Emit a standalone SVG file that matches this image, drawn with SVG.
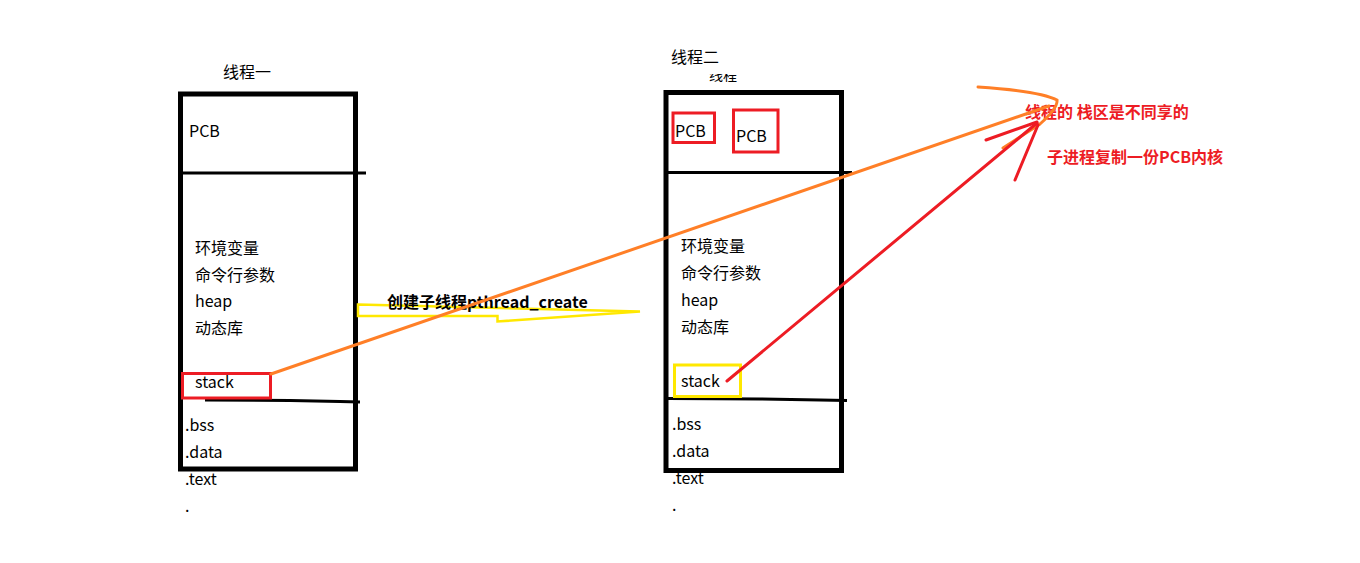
<svg xmlns="http://www.w3.org/2000/svg" width="1360" height="563" viewBox="0 0 1360 563">
<defs>
<style>
.t{font-family:"Noto Sans CJK SC","Microsoft YaHei","DejaVu Sans",sans-serif;font-size:16px;fill:#000}
.box{fill:none;stroke:#000;stroke-width:5}
.div{stroke:#000;stroke-width:3;fill:none}
.red{fill:none;stroke:#ED1C24;stroke-width:3}
.yel{fill:none;stroke:#FFE800;stroke-width:3}
.rt{font-family:"Noto Sans CJK SC","Microsoft YaHei",sans-serif;font-size:16px;font-weight:bold;fill:#ED1C24}
</style>
<clipPath id="cut"><rect x="700" y="74" width="60" height="8"/></clipPath>
</defs>
<rect width="1360" height="563" fill="#fff"/>

<g id="thread1">
<text class="t" x="223" y="78">线程一</text>
<rect class="box" x="180.5" y="94" width="175" height="375"/>
<line class="div" x1="180" y1="173" x2="366" y2="173"/>
<polyline class="div" points="205,400 290,400.5 340,401.5 360,402"/>
<text class="t" x="189" y="137">PCB</text>
<text class="t" x="195" y="254">环境变量</text>
<text class="t" x="195" y="281">命令行参数</text>
<text class="t" x="195" y="307">heap</text>
<text class="t" x="195" y="334">动态库</text>
<rect class="red" x="182.5" y="373.5" width="88" height="24.5"/>
<text class="t" x="195" y="388">stack</text>
<text class="t" x="185" y="431">.bss</text>
<text class="t" x="185" y="458">.data</text>
<text class="t" x="185" y="485">.text</text>
<text class="t" x="185" y="512">.</text>
</g>

<g id="thread2">
<text class="t" x="671" y="63">线程二</text>
<text class="t" x="709" y="80" clip-path="url(#cut)" style="font-size:14px">线程</text>
<rect class="box" x="666" y="92.5" width="175.5" height="378"/>
<line class="div" x1="666" y1="172.5" x2="852" y2="172.5"/>
<polyline class="div" points="668,398.5 760,399 820,400 847,400.5"/>
<rect class="red" x="673" y="113" width="41.5" height="29.5"/>
<rect class="red" x="733.5" y="110" width="44.5" height="42"/>
<text class="t" x="675" y="137">PCB</text>
<text class="t" x="736" y="142">PCB</text>
<text class="t" x="681" y="252">环境变量</text>
<text class="t" x="681" y="279">命令行参数</text>
<text class="t" x="681" y="306">heap</text>
<text class="t" x="681" y="333">动态库</text>
<rect class="yel" x="674.5" y="365" width="66" height="31.5"/>
<text class="t" x="681" y="387">stack</text>
<text class="t" x="672" y="430">.bss</text>
<text class="t" x="672" y="457">.data</text>
<text class="t" x="672" y="484">.text</text>
<text class="t" x="672" y="511">.</text>
</g>

<g id="notes">
<text class="rt" x="1025" y="118">线程的 栈区是不同享的</text>
<text class="rt" x="1047" y="163">子进程复制一份PCB内核</text>
</g>

<g id="connectors">
<polygon class="yel" points="358,304.5 640,311.5 497.5,321.5 497.5,316 358,316" style="stroke-width:2.5"/>
<text x="387" y="308" style="font-family:'Noto Sans CJK SC','Microsoft YaHei',sans-serif;font-size:16px;font-weight:bold;fill:#000">创建子线程pthread_create</text>
<g fill="none" stroke="#FF7F27" stroke-width="3" stroke-linecap="round">
<line x1="271" y1="374" x2="1049" y2="106"/>
<path d="M978,87 Q1040,91 1057,100 Q1058,108 1040,124 L1003,148"/>
</g>
<g fill="none" stroke="#ED1C24" stroke-width="3" stroke-linecap="round">
<line x1="727" y1="381" x2="1037" y2="123"/>
<line x1="986" y1="140" x2="1037" y2="122"/>
<line x1="1015" y1="180" x2="1038" y2="125"/>
</g>
</g>
</svg>
